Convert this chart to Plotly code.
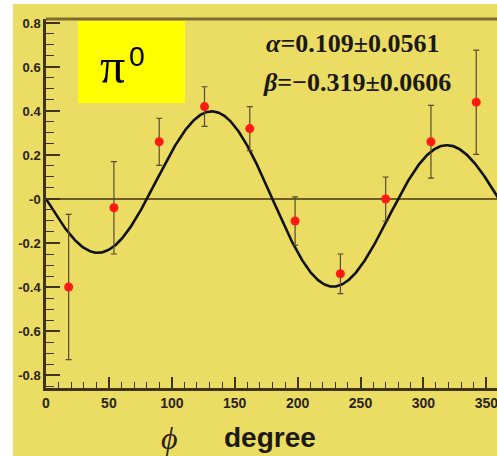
import numpy as np
import plotly.graph_objects as go

# Azimuthal asymmetry for pi0, 36-degree bins
phi = [18, 54, 90, 126, 162, 198, 234, 270, 306, 342]
asym = [-0.40, -0.04, 0.26, 0.42, 0.32, -0.10, -0.34, 0.00, 0.26, 0.44]
asym_err = [0.33, 0.21, 0.107, 0.09, 0.10, 0.11, 0.09, 0.10, 0.165, 0.237]

# Fit parameters: A(phi) = alpha*sin(phi) + beta*sin(2*phi)
alpha, alpha_err = 0.109, 0.0561
beta, beta_err = -0.319, 0.0606

y_tickvals = [0.8, 0.6, 0.4, 0.2, 0.0, -0.2, -0.4, -0.6, -0.8]
y_ticktext = ["0.8", "0.6", "0.4", "0.2", "-0", "-0.2", "-0.4", "-0.6", "-0.8"]
x_tickvals = [0, 50, 100, 150, 200, 250, 300, 350]

W, H = 497, 456
L, R, T, B = 46, 0, 19, 68
pw, ph = W - L - R, H - T - B


def px_x(px):
    return (px - L) / pw


def px_y(py):
    return (H - B - py) / ph


bg = "#EBDC64"
axis_col = "#3f3319"
ink = "#2b2418"

phi_fine = np.linspace(0, 360, 721)
fit = alpha * np.sin(np.radians(phi_fine)) + beta * np.sin(np.radians(2 * phi_fine))

fig = go.Figure()
fig.add_trace(go.Scatter(
    x=phi_fine, y=fit, mode="lines",
    line=dict(color="#111111", width=2.6),
    hoverinfo="skip", showlegend=False,
))
fig.add_trace(go.Scatter(
    x=phi, y=asym, mode="markers",
    marker=dict(color="#FF1A12", size=9),
    error_y=dict(type="data", array=asym_err, color="#5a4a2e", thickness=1.2, width=3),
    showlegend=False,
))

tick_font = dict(family="Liberation Sans", size=14, color=ink, weight="bold")

fig.update_xaxes(
    range=[0, 358.5], tickvals=x_tickvals,
    ticks="inside", ticklen=11, tickwidth=1.5, tickcolor=axis_col,
    minor=dict(dtick=10, ticks="inside", ticklen=6, tickwidth=1.2, tickcolor=axis_col),
    showline=True, linecolor=axis_col, linewidth=2.5,
    showgrid=False, zeroline=False, tickfont=tick_font,
    ticklabeloverflow="allow", ticklabelstandoff=0,
)
fig.update_yaxes(
    range=[-0.859, 0.818], tickvals=y_tickvals, ticktext=y_ticktext,
    ticks="inside", ticklen=14, tickwidth=1.5, tickcolor=axis_col,
    minor=dict(dtick=0.05, tick0=0, ticks="inside", ticklen=8, tickwidth=1.2, tickcolor=axis_col),
    showline=True, linecolor=axis_col, linewidth=2.5,
    showgrid=False, zeroline=True, zerolinecolor="#6e5e26", zerolinewidth=2,
    tickfont=dict(tick_font, size=13),
)

shapes = [
    # white page border on the left and top
    dict(type="rect", xref="paper", yref="paper", x0=px_x(0), x1=px_x(13), y0=px_y(H), y1=px_y(0),
         fillcolor="white", line=dict(width=0), layer="below"),
    dict(type="rect", xref="paper", yref="paper", x0=px_x(0), x1=px_x(W), y0=px_y(4), y1=px_y(0),
         fillcolor="white", line=dict(width=0), layer="below"),
    # top frame line
    dict(type="line", xref="paper", yref="paper", x0=px_x(46), x1=1, y0=1, y1=1,
         line=dict(color="#7d6c2c", width=3)),
    # label box
    dict(type="rect", xref="paper", yref="paper", x0=px_x(78), x1=px_x(185), y0=px_y(103), y1=px_y(21),
         fillcolor="#FFFF00", line=dict(width=0), layer="above"),
]

annotations = [
    dict(text="π", x=px_x(112), y=px_y(66), font=dict(family="Liberation Serif", size=50, color="black")),
    dict(text="0", x=px_x(137), y=px_y(56), font=dict(family="Liberation Sans", size=28, color="black")),
    dict(text=f"<i>α</i>=%.3f±%.4f" % (alpha, alpha_err), x=px_x(352), y=px_y(43),
         font=dict(family="Liberation Serif", size=26, color="#1c1a10", weight="bold")),
    dict(text=f"<i>β</i>=−%.3f±%.4f" % (abs(beta), beta_err), x=px_x(357), y=px_y(82),
         font=dict(family="Liberation Serif", size=26, color="#1c1a10", weight="bold")),
    dict(text="<i>ϕ</i>", x=px_x(169), y=px_y(438),
         font=dict(family="Liberation Serif", size=32, color=ink)),
    dict(text="degree", x=px_x(270), y=px_y(437),
         font=dict(family="Liberation Sans", size=28, color="#1c1a10", weight="bold")),
]
for a in annotations:
    a.update(xref="paper", yref="paper", showarrow=False, xanchor="center", yanchor="middle")

fig.update_layout(
    width=W, height=H,
    margin=dict(l=L, r=R, t=T, b=B),
    paper_bgcolor=bg, plot_bgcolor=bg,
    shapes=shapes, annotations=annotations,
    showlegend=False,
)

fig.write_html("out.html")
